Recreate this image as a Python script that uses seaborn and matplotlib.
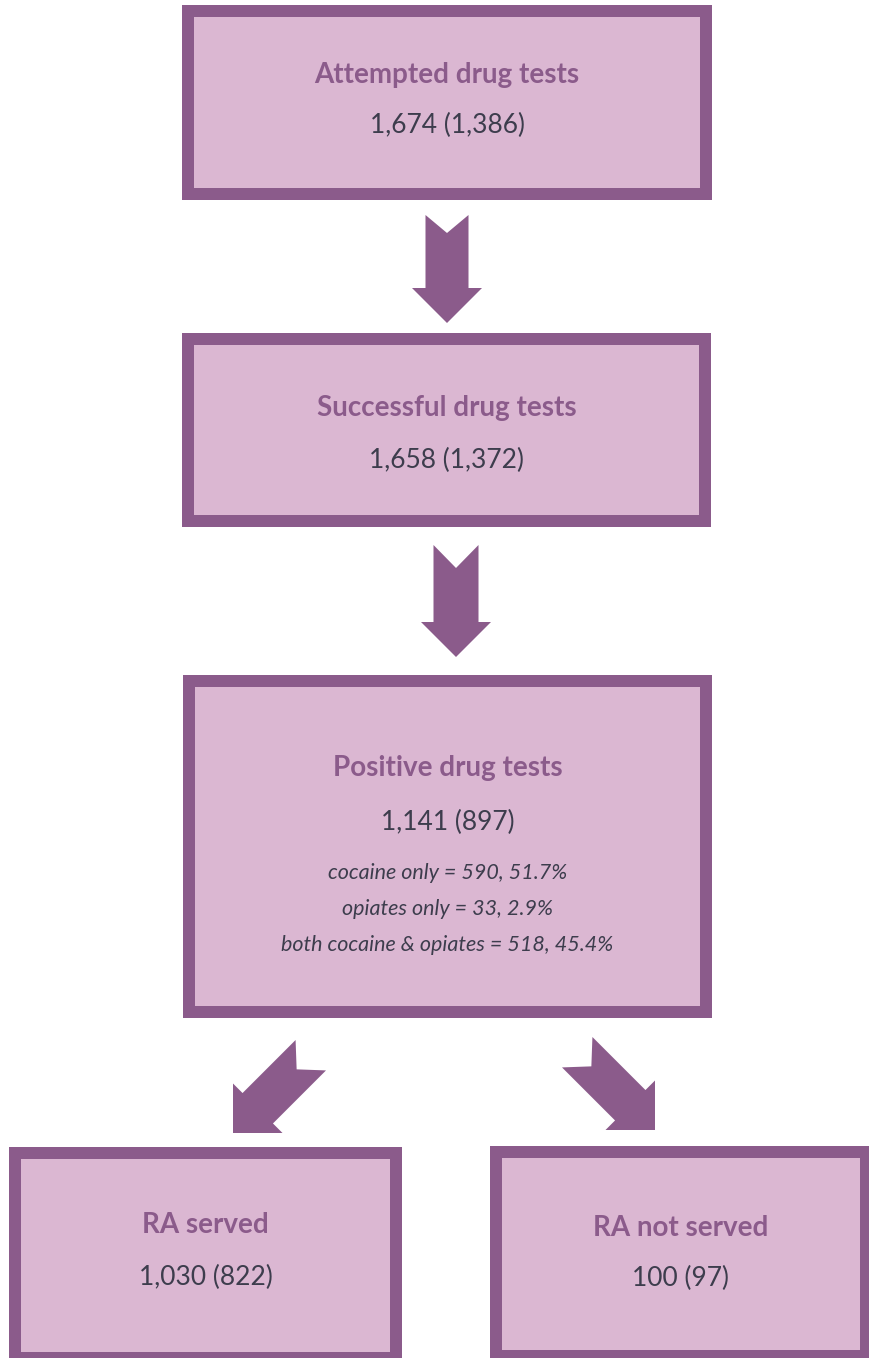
import numpy as np
import matplotlib
matplotlib.use("Agg")
import matplotlib.pyplot as plt
from matplotlib.patches import Rectangle, Polygon
import seaborn as sns

# flow stages: total tests (unique people in brackets)
stages = ["Attempted drug tests", "Successful drug tests", "Positive drug tests",
          "RA served", "RA not served"]
totals = [1674, 1658, 1141, 1030, 100]
people = [1386, 1372, 897, 822, 97]

# breakdown of positive tests
drug_groups = ["cocaine only", "opiates only", "both cocaine & opiates"]
drug_n = [590, 33, 518]
drug_pct = [51.7, 2.9, 45.4]

sns.set_style("white")
plt.rcParams['font.family'] = ['Lato', 'DejaVu Sans']

PURPLE = "#8b5b8b"
PINK = "#dbb7d2"
DARK = "#3d3d4d"

W, H = 869, 1358
fig = plt.figure(figsize=(W / 100, H / 100), dpi=100)
ax = fig.add_axes([0, 0, 1, 1])
ax.set_xlim(0, W)
ax.set_ylim(H, 0)
ax.axis("off")

# box outlines (x0, y0, x1, y1) in pixels, border width
boxes = [(182, 5, 712, 200), (182, 333, 711, 527), (183, 675, 712, 1018),
         (9, 1147, 402, 1364), (490, 1146, 872, 1362)]
bw = 12


def draw_box(x0, y0, x1, y1):
    ax.add_patch(Rectangle((x0, y0), x1 - x0, y1 - y0, facecolor=PURPLE, edgecolor="none"))
    ax.add_patch(Rectangle((x0 + bw, y0 + bw), x1 - x0 - 2 * bw, y1 - y0 - 2 * bw,
                           facecolor=PINK, edgecolor="none"))


def draw_arrow(tip, d, L=110, hl=35, hw=35, sw=21.5, nd=20):
    d = np.array(d, dtype=float)
    d = d / np.linalg.norm(d)
    p = np.array([-d[1], d[0]])
    local = [(0, 0), (hw, -hl), (sw, -hl), (sw, -L), (0, -L + nd),
             (-sw, -L), (-sw, -hl), (-hw, -hl)]
    pts = [np.array(tip) + a * p + b * d for a, b in local]
    ax.add_patch(Polygon(pts, closed=True, facecolor=PURPLE, edgecolor="none"))


for b in boxes:
    draw_box(*b)

draw_arrow((447, 323), (0, 1), L=108, nd=18)
draw_arrow((456, 657), (0, 1), L=112, sw=22.5, nd=23)
draw_arrow((233, 1133), (-1, 1))
draw_arrow((655, 1130), (1, 1))

title_y = [75, 408, 768, 1225, 1228]
num_y = [125, 460, 822, 1277, 1278]
for i, b in enumerate(boxes):
    cx = (b[0] + b[2]) / 2
    ax.text(cx, title_y[i], stages[i], ha="center", va="center",
            fontsize=20, fontweight="bold", color=PURPLE)
    ax.text(cx, num_y[i], f"{totals[i]:,} ({people[i]:,})", ha="center", va="center",
            fontsize=19, color=DARK)

cx = (boxes[2][0] + boxes[2][2]) / 2
for k, (g, n, pc) in enumerate(zip(drug_groups, drug_n, drug_pct)):
    ax.text(cx, 873 + 36 * k, f"{g} = {n}, {pc}%", ha="center", va="center",
            fontsize=15.5, fontstyle="italic", color=DARK)

fig.savefig("out.png", dpi=100, facecolor="white")
